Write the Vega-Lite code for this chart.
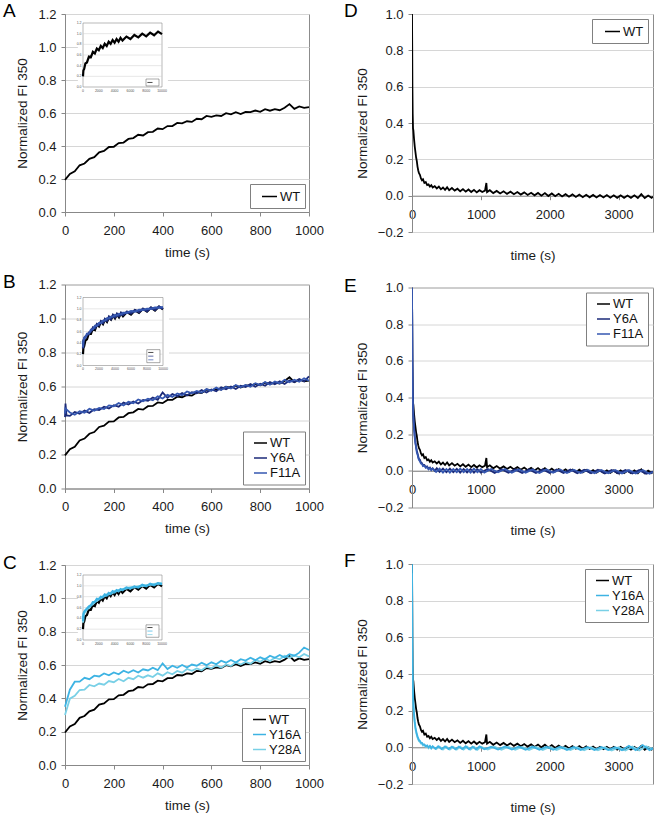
{
"$schema":"https://vega.github.io/schema/vega-lite/v6.json",
"padding":{"left":2,"top":1,"right":0,"bottom":0},
"background":"white",
"config":{
 "view":{"stroke":"#8c8c8c"},
 "axis":{"domainColor":"#888888","tickColor":"#888888","tickSize":4,"tickCount":20,"labelFont":"Liberation Sans","labelFontSize":13,"labelColor":"#1a1a1a","titleFont":"Liberation Sans","titleFontSize":13.5,"titleFontWeight":"normal","titleColor":"#1a1a1a","gridColor":"#d6d6d6","labelFlush":false,"labelOverlap":false},
 "axisX":{"grid":false,"labelPadding":8,"titlePadding":8,"format":"d"},
 "axisY":{"grid":true,"labelPadding":5,"titlePadding":8},
 "legend":{"symbolType":"stroke","symbolSize":169,"symbolStrokeWidth":1.5,"labelFont":"Liberation Sans","labelFontSize":13,"labelColor":"#111111","strokeColor":"#808080","fillColor":"#ffffff","padding":4,"rowPadding":0,"symbolOffset":6,"labelOffset":2}
},
"datasets":{
"wtG":[{"t":0,"v":0.195},{"t":20,"v":0.231},{"t":40,"v":0.246},{"t":60,"v":0.283},{"t":80,"v":0.294},{"t":100,"v":0.322},{"t":120,"v":0.332},{"t":140,"v":0.362},{"t":160,"v":0.37},{"t":180,"v":0.394},{"t":200,"v":0.395},{"t":220,"v":0.418},{"t":240,"v":0.421},{"t":260,"v":0.443},{"t":280,"v":0.448},{"t":300,"v":0.468},{"t":320,"v":0.464},{"t":340,"v":0.484},{"t":360,"v":0.486},{"t":380,"v":0.506},{"t":400,"v":0.502},{"t":420,"v":0.521},{"t":440,"v":0.521},{"t":460,"v":0.54},{"t":480,"v":0.537},{"t":500,"v":0.55},{"t":520,"v":0.546},{"t":540,"v":0.565},{"t":560,"v":0.562},{"t":580,"v":0.582},{"t":600,"v":0.577},{"t":620,"v":0.586},{"t":640,"v":0.582},{"t":660,"v":0.599},{"t":680,"v":0.592},{"t":700,"v":0.605},{"t":720,"v":0.594},{"t":740,"v":0.607},{"t":760,"v":0.605},{"t":780,"v":0.615},{"t":800,"v":0.607},{"t":820,"v":0.623},{"t":840,"v":0.614},{"t":860,"v":0.623},{"t":880,"v":0.617},{"t":900,"v":0.632},{"t":920,"v":0.654},{"t":940,"v":0.625},{"t":960,"v":0.64},{"t":980,"v":0.631},{"t":1000,"v":0.635}],
"y6G":[{"t":0,"v":0.42},{"t":2,"v":0.5},{"t":6,"v":0.43},{"t":20,"v":0.427},{"t":40,"v":0.45},{"t":60,"v":0.44},{"t":80,"v":0.458},{"t":100,"v":0.445},{"t":120,"v":0.466},{"t":140,"v":0.462},{"t":160,"v":0.481},{"t":180,"v":0.471},{"t":200,"v":0.49},{"t":220,"v":0.481},{"t":240,"v":0.505},{"t":260,"v":0.494},{"t":280,"v":0.512},{"t":300,"v":0.5},{"t":320,"v":0.521},{"t":340,"v":0.516},{"t":360,"v":0.535},{"t":380,"v":0.522},{"t":400,"v":0.565},{"t":420,"v":0.533},{"t":440,"v":0.555},{"t":460,"v":0.543},{"t":480,"v":0.561},{"t":500,"v":0.547},{"t":520,"v":0.566},{"t":540,"v":0.56},{"t":560,"v":0.579},{"t":580,"v":0.565},{"t":600,"v":0.583},{"t":620,"v":0.572},{"t":640,"v":0.595},{"t":660,"v":0.584},{"t":680,"v":0.6},{"t":700,"v":0.585},{"t":720,"v":0.605},{"t":740,"v":0.597},{"t":760,"v":0.614},{"t":780,"v":0.599},{"t":800,"v":0.616},{"t":820,"v":0.604},{"t":840,"v":0.626},{"t":860,"v":0.613},{"t":880,"v":0.63},{"t":900,"v":0.615},{"t":920,"v":0.635},{"t":940,"v":0.626},{"t":960,"v":0.644},{"t":980,"v":0.63},{"t":1000,"v":0.66}],
"f11G":[{"t":0,"v":0.44},{"t":2,"v":0.47},{"t":20,"v":0.447},{"t":40,"v":0.434},{"t":60,"v":0.454},{"t":80,"v":0.446},{"t":100,"v":0.469},{"t":120,"v":0.458},{"t":140,"v":0.474},{"t":160,"v":0.467},{"t":180,"v":0.489},{"t":200,"v":0.484},{"t":220,"v":0.503},{"t":240,"v":0.489},{"t":260,"v":0.51},{"t":280,"v":0.502},{"t":300,"v":0.524},{"t":320,"v":0.513},{"t":340,"v":0.528},{"t":360,"v":0.519},{"t":380,"v":0.542},{"t":400,"v":0.529},{"t":420,"v":0.551},{"t":440,"v":0.539},{"t":460,"v":0.559},{"t":480,"v":0.549},{"t":500,"v":0.571},{"t":520,"v":0.56},{"t":540,"v":0.574},{"t":560,"v":0.563},{"t":580,"v":0.585},{"t":600,"v":0.575},{"t":620,"v":0.594},{"t":640,"v":0.579},{"t":660,"v":0.598},{"t":680,"v":0.588},{"t":700,"v":0.609},{"t":720,"v":0.595},{"t":740,"v":0.609},{"t":760,"v":0.598},{"t":780,"v":0.619},{"t":800,"v":0.608},{"t":820,"v":0.626},{"t":840,"v":0.61},{"t":860,"v":0.629},{"t":880,"v":0.618},{"t":900,"v":0.639},{"t":920,"v":0.625},{"t":940,"v":0.64},{"t":960,"v":0.628},{"t":980,"v":0.648},{"t":1000,"v":0.634}],
"y16G":[{"t":0,"v":0.35},{"t":20,"v":0.452},{"t":40,"v":0.5},{"t":60,"v":0.5},{"t":80,"v":0.523},{"t":100,"v":0.515},{"t":120,"v":0.536},{"t":140,"v":0.531},{"t":160,"v":0.549},{"t":180,"v":0.538},{"t":200,"v":0.555},{"t":220,"v":0.544},{"t":240,"v":0.566},{"t":260,"v":0.553},{"t":280,"v":0.569},{"t":300,"v":0.555},{"t":320,"v":0.574},{"t":340,"v":0.567},{"t":360,"v":0.584},{"t":380,"v":0.569},{"t":400,"v":0.61},{"t":420,"v":0.576},{"t":440,"v":0.596},{"t":460,"v":0.583},{"t":480,"v":0.6},{"t":500,"v":0.585},{"t":520,"v":0.603},{"t":540,"v":0.596},{"t":560,"v":0.614},{"t":580,"v":0.599},{"t":600,"v":0.616},{"t":620,"v":0.604},{"t":640,"v":0.626},{"t":660,"v":0.614},{"t":680,"v":0.63},{"t":700,"v":0.615},{"t":720,"v":0.635},{"t":740,"v":0.627},{"t":760,"v":0.644},{"t":780,"v":0.629},{"t":800,"v":0.646},{"t":820,"v":0.634},{"t":840,"v":0.656},{"t":860,"v":0.643},{"t":880,"v":0.66},{"t":900,"v":0.645},{"t":920,"v":0.665},{"t":940,"v":0.656},{"t":960,"v":0.674},{"t":980,"v":0.705},{"t":1000,"v":0.69}],
"y28G":[{"t":0,"v":0.3},{"t":20,"v":0.398},{"t":40,"v":0.415},{"t":60,"v":0.45},{"t":80,"v":0.452},{"t":100,"v":0.48},{"t":120,"v":0.472},{"t":140,"v":0.489},{"t":160,"v":0.482},{"t":180,"v":0.504},{"t":200,"v":0.497},{"t":220,"v":0.516},{"t":240,"v":0.502},{"t":260,"v":0.523},{"t":280,"v":0.515},{"t":300,"v":0.536},{"t":320,"v":0.524},{"t":340,"v":0.538},{"t":360,"v":0.528},{"t":380,"v":0.55},{"t":400,"v":0.536},{"t":420,"v":0.557},{"t":440,"v":0.544},{"t":460,"v":0.564},{"t":480,"v":0.554},{"t":500,"v":0.576},{"t":520,"v":0.565},{"t":540,"v":0.579},{"t":560,"v":0.568},{"t":580,"v":0.59},{"t":600,"v":0.58},{"t":620,"v":0.599},{"t":640,"v":0.584},{"t":660,"v":0.603},{"t":680,"v":0.594},{"t":700,"v":0.616},{"t":720,"v":0.603},{"t":740,"v":0.618},{"t":760,"v":0.608},{"t":780,"v":0.63},{"t":800,"v":0.62},{"t":820,"v":0.639},{"t":840,"v":0.624},{"t":860,"v":0.644},{"t":880,"v":0.634},{"t":900,"v":0.656},{"t":920,"v":0.643},{"t":940,"v":0.658},{"t":960,"v":0.646},{"t":980,"v":0.666},{"t":1000,"v":0.652}],
"wtD":[{"t":0,"v":1.0},{"t":3,"v":0.83},{"t":6,"v":0.6},{"t":10,"v":0.45},{"t":15,"v":0.37},{"t":20,"v":0.36},{"t":30,"v":0.31},{"t":40,"v":0.27},{"t":50,"v":0.24},{"t":60,"v":0.21},{"t":70,"v":0.19},{"t":80,"v":0.16},{"t":90,"v":0.14},{"t":100,"v":0.125},{"t":115,"v":0.115},{"t":130,"v":0.095},{"t":145,"v":0.085},{"t":160,"v":0.09},{"t":180,"v":0.07},{"t":200,"v":0.075},{"t":220,"v":0.058},{"t":240,"v":0.062},{"t":260,"v":0.05},{"t":280,"v":0.058},{"t":300,"v":0.045},{"t":330,"v":0.052},{"t":360,"v":0.04},{"t":390,"v":0.05},{"t":420,"v":0.035},{"t":450,"v":0.045},{"t":480,"v":0.032},{"t":510,"v":0.046},{"t":540,"v":0.03},{"t":580,"v":0.042},{"t":620,"v":0.028},{"t":660,"v":0.038},{"t":700,"v":0.024},{"t":740,"v":0.036},{"t":780,"v":0.022},{"t":820,"v":0.034},{"t":860,"v":0.02},{"t":900,"v":0.032},{"t":940,"v":0.018},{"t":980,"v":0.03},{"t":1020,"v":0.02},{"t":1060,"v":0.028},{"t":1080,"v":0.07},{"t":1090,"v":0.02},{"t":1130,"v":0.03},{"t":1180,"v":0.014},{"t":1230,"v":0.026},{"t":1280,"v":0.012},{"t":1330,"v":0.024},{"t":1380,"v":0.01},{"t":1430,"v":0.022},{"t":1480,"v":0.008},{"t":1530,"v":0.02},{"t":1580,"v":0.006},{"t":1630,"v":0.018},{"t":1680,"v":0.004},{"t":1730,"v":0.016},{"t":1780,"v":0.002},{"t":1830,"v":0.015},{"t":1880,"v":0.0},{"t":1930,"v":0.014},{"t":1980,"v":-0.002},{"t":2030,"v":0.012},{"t":2080,"v":-0.003},{"t":2130,"v":0.01},{"t":2180,"v":-0.004},{"t":2230,"v":0.008},{"t":2280,"v":-0.006},{"t":2330,"v":0.007},{"t":2380,"v":-0.007},{"t":2430,"v":0.006},{"t":2480,"v":-0.008},{"t":2530,"v":0.005},{"t":2580,"v":-0.009},{"t":2630,"v":0.004},{"t":2680,"v":-0.01},{"t":2730,"v":0.003},{"t":2780,"v":-0.01},{"t":2830,"v":0.003},{"t":2880,"v":-0.011},{"t":2930,"v":0.002},{"t":2980,"v":-0.012},{"t":3030,"v":0.002},{"t":3080,"v":-0.012},{"t":3130,"v":0.001},{"t":3180,"v":-0.012},{"t":3230,"v":0.002},{"t":3280,"v":-0.013},{"t":3330,"v":0.008},{"t":3380,"v":-0.013},{"t":3430,"v":0.001},{"t":3480,"v":-0.012},{"t":3500,"v":-0.005}],
"y6D":[{"t":0,"v":1.0},{"t":3,"v":0.82},{"t":6,"v":0.6},{"t":10,"v":0.45},{"t":15,"v":0.35},{"t":20,"v":0.3},{"t":30,"v":0.24},{"t":40,"v":0.19},{"t":50,"v":0.155},{"t":60,"v":0.13},{"t":70,"v":0.11},{"t":80,"v":0.095},{"t":90,"v":0.08},{"t":100,"v":0.065},{"t":115,"v":0.06},{"t":130,"v":0.045},{"t":145,"v":0.042},{"t":160,"v":0.03},{"t":180,"v":0.032},{"t":200,"v":0.02},{"t":220,"v":0.024},{"t":240,"v":0.012},{"t":260,"v":0.018},{"t":280,"v":0.006},{"t":300,"v":0.014},{"t":330,"v":0.0},{"t":360,"v":0.014},{"t":400,"v":-0.006},{"t":450,"v":0.012},{"t":500,"v":-0.008},{"t":550,"v":0.012},{"t":600,"v":-0.008},{"t":650,"v":0.011},{"t":700,"v":-0.01},{"t":750,"v":0.01},{"t":800,"v":-0.009},{"t":850,"v":0.01},{"t":900,"v":-0.01},{"t":950,"v":0.009},{"t":1000,"v":-0.01},{"t":1100,"v":0.01},{"t":1200,"v":-0.011},{"t":1300,"v":0.009},{"t":1400,"v":-0.01},{"t":1500,"v":0.008},{"t":1600,"v":-0.012},{"t":1700,"v":0.008},{"t":1800,"v":-0.012},{"t":1900,"v":0.008},{"t":2000,"v":-0.012},{"t":2100,"v":0.007},{"t":2200,"v":-0.012},{"t":2300,"v":0.007},{"t":2400,"v":-0.013},{"t":2500,"v":0.006},{"t":2600,"v":-0.013},{"t":2700,"v":0.006},{"t":2800,"v":-0.014},{"t":2900,"v":0.005},{"t":3000,"v":-0.014},{"t":3100,"v":0.005},{"t":3200,"v":-0.014},{"t":3300,"v":0.004},{"t":3400,"v":-0.016},{"t":3500,"v":-0.004}],
"f11D":[{"t":0,"v":1.0},{"t":3,"v":0.8},{"t":6,"v":0.58},{"t":10,"v":0.42},{"t":15,"v":0.34},{"t":20,"v":0.29},{"t":30,"v":0.23},{"t":40,"v":0.18},{"t":50,"v":0.15},{"t":60,"v":0.125},{"t":70,"v":0.1},{"t":80,"v":0.09},{"t":90,"v":0.072},{"t":100,"v":0.06},{"t":115,"v":0.052},{"t":130,"v":0.04},{"t":145,"v":0.038},{"t":160,"v":0.026},{"t":180,"v":0.028},{"t":200,"v":0.016},{"t":220,"v":0.02},{"t":240,"v":0.008},{"t":260,"v":0.015},{"t":280,"v":0.004},{"t":300,"v":0.012},{"t":350,"v":-0.006},{"t":400,"v":0.012},{"t":450,"v":-0.01},{"t":500,"v":0.01},{"t":550,"v":-0.01},{"t":600,"v":0.01},{"t":650,"v":-0.008},{"t":700,"v":0.012},{"t":750,"v":-0.008},{"t":800,"v":0.01},{"t":850,"v":-0.01},{"t":900,"v":0.012},{"t":950,"v":-0.008},{"t":1000,"v":0.01},{"t":1050,"v":-0.01},{"t":1150,"v":0.01},{"t":1250,"v":-0.008},{"t":1350,"v":0.01},{"t":1450,"v":-0.01},{"t":1550,"v":0.009},{"t":1650,"v":-0.01},{"t":1750,"v":0.008},{"t":1850,"v":-0.012},{"t":1950,"v":0.008},{"t":2050,"v":-0.01},{"t":2150,"v":0.007},{"t":2250,"v":-0.012},{"t":2350,"v":0.006},{"t":2450,"v":-0.012},{"t":2550,"v":0.006},{"t":2650,"v":-0.013},{"t":2750,"v":0.005},{"t":2850,"v":-0.013},{"t":2950,"v":0.005},{"t":3050,"v":-0.014},{"t":3150,"v":0.004},{"t":3250,"v":-0.015},{"t":3350,"v":0.004},{"t":3450,"v":-0.016},{"t":3500,"v":-0.006}],
"y16D":[{"t":0,"v":1.0},{"t":3,"v":0.73},{"t":6,"v":0.5},{"t":10,"v":0.36},{"t":15,"v":0.29},{"t":20,"v":0.24},{"t":30,"v":0.18},{"t":40,"v":0.14},{"t":50,"v":0.11},{"t":60,"v":0.09},{"t":70,"v":0.072},{"t":80,"v":0.06},{"t":90,"v":0.05},{"t":100,"v":0.04},{"t":115,"v":0.035},{"t":130,"v":0.025},{"t":145,"v":0.024},{"t":160,"v":0.015},{"t":180,"v":0.016},{"t":200,"v":0.006},{"t":220,"v":0.01},{"t":240,"v":0.0},{"t":260,"v":0.008},{"t":280,"v":-0.004},{"t":300,"v":0.006},{"t":340,"v":-0.008},{"t":380,"v":0.006},{"t":430,"v":-0.01},{"t":480,"v":0.005},{"t":530,"v":-0.01},{"t":580,"v":0.004},{"t":630,"v":-0.011},{"t":680,"v":0.004},{"t":730,"v":-0.01},{"t":780,"v":0.006},{"t":830,"v":-0.011},{"t":880,"v":0.004},{"t":930,"v":-0.012},{"t":980,"v":0.005},{"t":1050,"v":-0.011},{"t":1150,"v":0.004},{"t":1250,"v":-0.012},{"t":1350,"v":0.005},{"t":1450,"v":-0.012},{"t":1550,"v":0.004},{"t":1650,"v":-0.013},{"t":1750,"v":0.004},{"t":1850,"v":-0.013},{"t":1950,"v":0.003},{"t":2050,"v":-0.013},{"t":2150,"v":0.003},{"t":2250,"v":-0.014},{"t":2350,"v":0.002},{"t":2450,"v":-0.014},{"t":2550,"v":0.002},{"t":2650,"v":-0.015},{"t":2750,"v":0.002},{"t":2850,"v":-0.015},{"t":2950,"v":0.001},{"t":3050,"v":-0.016},{"t":3150,"v":0.008},{"t":3250,"v":-0.016},{"t":3350,"v":0.012},{"t":3450,"v":-0.016},{"t":3500,"v":-0.004}],
"y28D":[{"t":0,"v":0.95},{"t":3,"v":0.7},{"t":6,"v":0.48},{"t":10,"v":0.34},{"t":15,"v":0.27},{"t":20,"v":0.22},{"t":30,"v":0.165},{"t":40,"v":0.13},{"t":50,"v":0.1},{"t":60,"v":0.082},{"t":70,"v":0.066},{"t":80,"v":0.052},{"t":90,"v":0.044},{"t":100,"v":0.034},{"t":115,"v":0.03},{"t":130,"v":0.02},{"t":145,"v":0.02},{"t":160,"v":0.01},{"t":180,"v":0.013},{"t":200,"v":0.002},{"t":220,"v":0.008},{"t":240,"v":-0.004},{"t":260,"v":0.006},{"t":280,"v":-0.006},{"t":300,"v":0.004},{"t":350,"v":-0.01},{"t":400,"v":0.004},{"t":450,"v":-0.012},{"t":500,"v":0.004},{"t":550,"v":-0.012},{"t":600,"v":0.003},{"t":650,"v":-0.012},{"t":700,"v":0.004},{"t":750,"v":-0.012},{"t":800,"v":0.004},{"t":850,"v":-0.012},{"t":900,"v":0.003},{"t":950,"v":-0.013},{"t":1000,"v":0.003},{"t":1100,"v":-0.012},{"t":1200,"v":0.003},{"t":1300,"v":-0.013},{"t":1400,"v":0.003},{"t":1500,"v":-0.013},{"t":1600,"v":0.002},{"t":1700,"v":-0.014},{"t":1800,"v":0.002},{"t":1900,"v":-0.014},{"t":2000,"v":0.002},{"t":2100,"v":-0.015},{"t":2200,"v":0.001},{"t":2300,"v":-0.015},{"t":2400,"v":0.001},{"t":2500,"v":-0.016},{"t":2600,"v":0.001},{"t":2700,"v":-0.016},{"t":2800,"v":0.0},{"t":2900,"v":-0.017},{"t":3000,"v":0.0},{"t":3100,"v":-0.017},{"t":3200,"v":0.004},{"t":3300,"v":-0.017},{"t":3400,"v":0.006},{"t":3500,"v":-0.01}],
"wtI":[{"t":0,"v":0.2},{"t":50,"v":0.31},{"t":150,"v":0.34},{"t":300,"v":0.44},{"t":500,"v":0.46},{"t":750,"v":0.57},{"t":1000,"v":0.56},{"t":1250,"v":0.66},{"t":1500,"v":0.63},{"t":1750,"v":0.72},{"t":2000,"v":0.69},{"t":2250,"v":0.77},{"t":2500,"v":0.73},{"t":2750,"v":0.81},{"t":3000,"v":0.77},{"t":3250,"v":0.85},{"t":3500,"v":0.81},{"t":3750,"v":0.88},{"t":4000,"v":0.83},{"t":4250,"v":0.9},{"t":4500,"v":0.85},{"t":4750,"v":0.92},{"t":5000,"v":0.87},{"t":5500,"v":0.945},{"t":6000,"v":0.9},{"t":6500,"v":0.975},{"t":7000,"v":0.93},{"t":7500,"v":1.0},{"t":8000,"v":0.95},{"t":8500,"v":1.02},{"t":9000,"v":0.97},{"t":9500,"v":1.04},{"t":10000,"v":0.99}],
"y6I":[{"t":0,"v":0.3},{"t":50,"v":0.44},{"t":150,"v":0.47},{"t":300,"v":0.51},{"t":500,"v":0.53},{"t":750,"v":0.58},{"t":1000,"v":0.6},{"t":1250,"v":0.67},{"t":1500,"v":0.66},{"t":1750,"v":0.73},{"t":2000,"v":0.71},{"t":2250,"v":0.78},{"t":2500,"v":0.75},{"t":2750,"v":0.82},{"t":3000,"v":0.79},{"t":3250,"v":0.86},{"t":3500,"v":0.82},{"t":3750,"v":0.89},{"t":4000,"v":0.85},{"t":4250,"v":0.91},{"t":4500,"v":0.87},{"t":4750,"v":0.93},{"t":5000,"v":0.89},{"t":5500,"v":0.95},{"t":6000,"v":0.92},{"t":6500,"v":0.98},{"t":7000,"v":0.94},{"t":7500,"v":1.0},{"t":8000,"v":0.96},{"t":8500,"v":1.02},{"t":9000,"v":0.98},{"t":9500,"v":1.04},{"t":10000,"v":1.0}],
"f11I":[{"t":0,"v":0.32},{"t":50,"v":0.42},{"t":150,"v":0.49},{"t":300,"v":0.49},{"t":500,"v":0.56},{"t":750,"v":0.56},{"t":1000,"v":0.63},{"t":1250,"v":0.64},{"t":1500,"v":0.7},{"t":1750,"v":0.7},{"t":2000,"v":0.75},{"t":2250,"v":0.75},{"t":2500,"v":0.79},{"t":2750,"v":0.79},{"t":3000,"v":0.83},{"t":3250,"v":0.83},{"t":3500,"v":0.86},{"t":3750,"v":0.86},{"t":4000,"v":0.89},{"t":4250,"v":0.88},{"t":4500,"v":0.91},{"t":4750,"v":0.9},{"t":5000,"v":0.93},{"t":5500,"v":0.93},{"t":6000,"v":0.96},{"t":6500,"v":0.95},{"t":7000,"v":0.98},{"t":7500,"v":0.98},{"t":8000,"v":1.0},{"t":8500,"v":1.0},{"t":9000,"v":1.02},{"t":9500,"v":1.02},{"t":10000,"v":1.03}],
"y16I":[{"t":0,"v":0.35},{"t":50,"v":0.48},{"t":150,"v":0.52},{"t":300,"v":0.55},{"t":500,"v":0.58},{"t":750,"v":0.62},{"t":1000,"v":0.64},{"t":1250,"v":0.7},{"t":1500,"v":0.7},{"t":1750,"v":0.76},{"t":2000,"v":0.75},{"t":2250,"v":0.8},{"t":2500,"v":0.79},{"t":2750,"v":0.84},{"t":3000,"v":0.82},{"t":3250,"v":0.87},{"t":3500,"v":0.85},{"t":3750,"v":0.9},{"t":4000,"v":0.88},{"t":4250,"v":0.92},{"t":4500,"v":0.9},{"t":4750,"v":0.94},{"t":5000,"v":0.92},{"t":5500,"v":0.97},{"t":6000,"v":0.95},{"t":6500,"v":0.99},{"t":7000,"v":0.97},{"t":7500,"v":1.02},{"t":8000,"v":0.99},{"t":8500,"v":1.04},{"t":9000,"v":1.01},{"t":9500,"v":1.05},{"t":10000,"v":1.03}],
"y28I":[{"t":0,"v":0.32},{"t":50,"v":0.44},{"t":150,"v":0.5},{"t":300,"v":0.52},{"t":500,"v":0.57},{"t":750,"v":0.59},{"t":1000,"v":0.64},{"t":1250,"v":0.66},{"t":1500,"v":0.71},{"t":1750,"v":0.72},{"t":2000,"v":0.76},{"t":2250,"v":0.77},{"t":2500,"v":0.8},{"t":2750,"v":0.81},{"t":3000,"v":0.84},{"t":3250,"v":0.84},{"t":3500,"v":0.87},{"t":3750,"v":0.87},{"t":4000,"v":0.9},{"t":4250,"v":0.9},{"t":4500,"v":0.92},{"t":4750,"v":0.92},{"t":5000,"v":0.94},{"t":5500,"v":0.95},{"t":6000,"v":0.97},{"t":6500,"v":0.97},{"t":7000,"v":0.99},{"t":7500,"v":1.0},{"t":8000,"v":1.01},{"t":8500,"v":1.02},{"t":9000,"v":1.03},{"t":9500,"v":1.04},{"t":10000,"v":1.05}],
"ig":[{"v":0.2},{"v":0.4},{"v":0.6},{"v":0.8},{"v":1.0}],
"yt":[{"v":0},{"v":0.2},{"v":0.4},{"v":0.6},{"v":0.8},{"v":1.0},{"v":1.2}],
"xt":[{"t":0},{"t":2000},{"t":4000},{"t":6000},{"t":8000},{"t":10000}]
},
"resolve":{"scale":{"x":"independent","y":"independent","color":"independent"},"legend":{"color":"independent"}},
"spacing":19,
"hconcat":[
{"spacing":12.5,
 "resolve":{"scale":{"x":"independent","y":"independent","color":"independent"},"legend":{"color":"independent"}},
 "vconcat":[
 {"width":244,"height":198,
  "resolve":{"scale":{"x":"independent","y":"independent","color":"independent"},"legend":{"color":"independent"}},
  "layer":[
   {"layer":[
     {"data":{"name":"wtG"},"mark":{"type":"line","strokeWidth":1.8},
      "encoding":{"x":{"field":"t","type":"quantitative","scale":{"domain":[0,1000],"nice":false},"axis":{"title":"time (s)","values":[0,200,400,600,800,1000]}},
       "y":{"field":"v","type":"quantitative","scale":{"domain":[0,1.2],"nice":false},"axis":{"title":"Normalized FI 350","values":[0,0.2,0.4,0.6,0.8,1,1.2],"format":".1f"}},
       "color":{"datum":"WT","scale":{"domain":["WT"],"range":["#000000"]},"legend":{"title":null,"orient":"bottom-right","offset":4,"symbolSize":225,"symbolOffset":7}}}},
     {"data":{"values":[{}]},"mark":{"type":"text","text":"A","font":"Liberation Sans","fontSize":19,"align":"left","baseline":"alphabetic","dx":-62,"dy":3,"color":"#000000"},
      "encoding":{"x":{"datum":0,"type":"quantitative"},"y":{"datum":1.2,"type":"quantitative"}}}
   ]},
   {"layer":[
     {"data":{"values":[{}]},"mark":{"type":"rect","fill":"#ffffff"},
      "encoding":{"x":{"datum":-650,"type":"quantitative","scale":{"domain":[0,10000],"range":[18,97],"nice":false,"zero":false},"axis":null},"x2":{"datum":10750},
       "y":{"datum":-0.23,"type":"quantitative","scale":{"domain":[0,1.2],"range":[73,9],"nice":false,"zero":false},"axis":null},"y2":{"datum":1.28}}},
     {"data":{"values":[{}]},"mark":{"type":"rect","fill":"#ffffff","stroke":"#8a8a8a","strokeWidth":0.6},
      "encoding":{"x":{"datum":0,"type":"quantitative","axis":null},"x2":{"datum":10000},"y":{"datum":0,"type":"quantitative","axis":null},"y2":{"datum":1.2}}},
     {"data":{"name":"ig"},"mark":{"type":"rule","stroke":"#cfcfcf","strokeWidth":0.5},
      "encoding":{"x":{"datum":0,"type":"quantitative","axis":null},"x2":{"datum":10000},"y":{"field":"v","type":"quantitative","axis":null}}},
     {"data":{"name":"wtI"},"mark":{"type":"line","strokeWidth":2.2},
      "encoding":{"x":{"field":"t","type":"quantitative","axis":null},"y":{"field":"v","type":"quantitative","axis":null},
       "color":{"datum":"WT","scale":{"domain":["WT"],"range":["#000000"]},"legend":null}}},
     {"data":{"name":"yt"},"mark":{"type":"text","fontSize":3.5,"align":"right","dx":-1.5,"color":"#555555","font":"Liberation Sans"},
      "encoding":{"x":{"datum":0,"type":"quantitative","axis":null},"y":{"field":"v","type":"quantitative","axis":null},"text":{"field":"v","type":"quantitative","format":".1f"}}},
     {"data":{"name":"xt"},"mark":{"type":"text","fontSize":3.5,"baseline":"top","dy":1.5,"color":"#555555","font":"Liberation Sans"},
      "encoding":{"x":{"field":"t","type":"quantitative","axis":null},"y":{"datum":0,"type":"quantitative","axis":null},"text":{"field":"t","type":"quantitative","format":"d"}}},
     {"data":{"values":[{}]},"mark":{"type":"rect","fill":"#ffffff","stroke":"#555555","strokeWidth":0.5},
      "encoding":{"x":{"datum":7975,"type":"quantitative","axis":null},"x2":{"datum":9620},"y":{"datum":0.02,"type":"quantitative","axis":null},"y2":{"datum":0.15}}},
     {"data":{"values":[{}]},"mark":{"type":"rule","stroke":"#000000","strokeWidth":0.7},
      "encoding":{"x":{"datum":8150,"type":"quantitative","axis":null},"x2":{"datum":8800},"y":{"datum":0.085,"type":"quantitative","axis":null}}}
   ]}
  ]},
 {"spacing":17.5,
  "resolve":{"scale":{"x":"independent","y":"independent","color":"independent"},"legend":{"color":"independent"}},
  "vconcat":[
  {"width":244,"height":204,
   "resolve":{"scale":{"x":"independent","y":"independent","color":"independent"},"legend":{"color":"independent"}},
   "layer":[
    {"layer":[
      {"data":{"name":"wtG"},"mark":{"type":"line","strokeWidth":1.8},
       "encoding":{"x":{"field":"t","type":"quantitative","scale":{"domain":[0,1000],"nice":false},"axis":{"title":"time (s)","values":[0,200,400,600,800,1000]}},
        "y":{"field":"v","type":"quantitative","scale":{"domain":[0,1.2],"nice":false},"axis":{"title":"Normalized FI 350","values":[0,0.2,0.4,0.6,0.8,1,1.2],"format":".1f"}},
        "color":{"datum":"WT","scale":{"domain":["WT","Y6A","F11A"],"range":["#000000","#1b2a78","#3557b0"]},"legend":{"title":null,"orient":"bottom-right","offset":4}}}},
      {"data":{"name":"y6G"},"mark":{"type":"line","strokeWidth":1.8},
       "encoding":{"x":{"field":"t","type":"quantitative"},"y":{"field":"v","type":"quantitative"},"color":{"datum":"Y6A","scale":{"domain":["WT","Y6A","F11A"],"range":["#000000","#1b2a78","#3557b0"]}}}},
      {"data":{"name":"f11G"},"mark":{"type":"line","strokeWidth":1.8},
       "encoding":{"x":{"field":"t","type":"quantitative"},"y":{"field":"v","type":"quantitative"},"color":{"datum":"F11A","scale":{"domain":["WT","Y6A","F11A"],"range":["#000000","#1b2a78","#3557b0"]}}}},
      {"data":{"values":[{}]},"mark":{"type":"text","text":"B","font":"Liberation Sans","fontSize":19,"align":"left","baseline":"alphabetic","dx":-62,"dy":3,"color":"#000000"},
       "encoding":{"x":{"datum":0,"type":"quantitative"},"y":{"datum":1.2,"type":"quantitative"}}}
    ]},
    {"layer":[
      {"data":{"values":[{}]},"mark":{"type":"rect","fill":"#ffffff"},
       "encoding":{"x":{"datum":-650,"type":"quantitative","scale":{"domain":[0,10000],"range":[18,98],"nice":false,"zero":false},"axis":null},"x2":{"datum":10750},
        "y":{"datum":-0.23,"type":"quantitative","scale":{"domain":[0,1.2],"range":[81,13],"nice":false,"zero":false},"axis":null},"y2":{"datum":1.28}}},
      {"data":{"values":[{}]},"mark":{"type":"rect","fill":"#ffffff","stroke":"#8a8a8a","strokeWidth":0.6},
       "encoding":{"x":{"datum":0,"type":"quantitative","axis":null},"x2":{"datum":10000},"y":{"datum":0,"type":"quantitative","axis":null},"y2":{"datum":1.2}}},
      {"data":{"name":"ig"},"mark":{"type":"rule","stroke":"#cfcfcf","strokeWidth":0.5},
       "encoding":{"x":{"datum":0,"type":"quantitative","axis":null},"x2":{"datum":10000},"y":{"field":"v","type":"quantitative","axis":null}}},
      {"data":{"name":"wtI"},"mark":{"type":"line","strokeWidth":2.2},
       "encoding":{"x":{"field":"t","type":"quantitative","axis":null},"y":{"field":"v","type":"quantitative","axis":null},
        "color":{"datum":"WT","scale":{"domain":["WT","Y6A","F11A"],"range":["#000000","#1b2a78","#3557b0"]},"legend":null}}},
      {"data":{"name":"y6I"},"mark":{"type":"line","strokeWidth":2.2},
       "encoding":{"x":{"field":"t","type":"quantitative","axis":null},"y":{"field":"v","type":"quantitative","axis":null},
        "color":{"datum":"Y6A","legend":null}}},
      {"data":{"name":"f11I"},"mark":{"type":"line","strokeWidth":2.2},
       "encoding":{"x":{"field":"t","type":"quantitative","axis":null},"y":{"field":"v","type":"quantitative","axis":null},
        "color":{"datum":"F11A","legend":null}}},
      {"data":{"name":"yt"},"mark":{"type":"text","fontSize":3.5,"align":"right","dx":-1.5,"color":"#555555","font":"Liberation Sans"},
       "encoding":{"x":{"datum":0,"type":"quantitative","axis":null},"y":{"field":"v","type":"quantitative","axis":null},"text":{"field":"v","type":"quantitative","format":".1f"}}},
      {"data":{"name":"xt"},"mark":{"type":"text","fontSize":3.5,"baseline":"top","dy":1.5,"color":"#555555","font":"Liberation Sans"},
       "encoding":{"x":{"field":"t","type":"quantitative","axis":null},"y":{"datum":0,"type":"quantitative","axis":null},"text":{"field":"t","type":"quantitative","format":"d"}}},
      {"data":{"values":[{}]},"mark":{"type":"rect","fill":"#ffffff","stroke":"#555555","strokeWidth":0.5},
       "encoding":{"x":{"datum":7975,"type":"quantitative","axis":null},"x2":{"datum":9620},"y":{"datum":0.05,"type":"quantitative","axis":null},"y2":{"datum":0.28}}},
      {"data":{"values":[{}]},"mark":{"type":"rule","stroke":"#000000","strokeWidth":0.7},
       "encoding":{"x":{"datum":8150,"type":"quantitative","axis":null},"x2":{"datum":8800},"y":{"datum":0.23,"type":"quantitative","axis":null}}},
      {"data":{"values":[{}]},"mark":{"type":"rule","stroke":"#1b2a78","strokeWidth":0.7},
       "encoding":{"x":{"datum":8150,"type":"quantitative","axis":null},"x2":{"datum":8800},"y":{"datum":0.165,"type":"quantitative","axis":null}}},
      {"data":{"values":[{}]},"mark":{"type":"rule","stroke":"#3557b0","strokeWidth":0.7},
       "encoding":{"x":{"datum":8150,"type":"quantitative","axis":null},"x2":{"datum":8800},"y":{"datum":0.1,"type":"quantitative","axis":null}}}
    ]}
   ]},
  {"width":244,"height":200,
   "resolve":{"scale":{"x":"independent","y":"independent","color":"independent"},"legend":{"color":"independent"}},
   "layer":[
    {"layer":[
      {"data":{"name":"wtG"},"mark":{"type":"line","strokeWidth":1.8},
       "encoding":{"x":{"field":"t","type":"quantitative","scale":{"domain":[0,1000],"nice":false},"axis":{"title":"time (s)","values":[0,200,400,600,800,1000]}},
        "y":{"field":"v","type":"quantitative","scale":{"domain":[0,1.2],"nice":false},"axis":{"title":"Normalized FI 350","values":[0,0.2,0.4,0.6,0.8,1,1.2],"format":".1f"}},
        "color":{"datum":"WT","scale":{"domain":["WT","Y16A","Y28A"],"range":["#000000","#3db3e3","#79d0e6"]},"legend":{"title":null,"orient":"bottom-right","offset":4}}}},
      {"data":{"name":"y28G"},"mark":{"type":"line","strokeWidth":1.8},
       "encoding":{"x":{"field":"t","type":"quantitative"},"y":{"field":"v","type":"quantitative"},"color":{"datum":"Y28A","scale":{"domain":["WT","Y16A","Y28A"],"range":["#000000","#3db3e3","#79d0e6"]}}}},
      {"data":{"name":"y16G"},"mark":{"type":"line","strokeWidth":1.8},
       "encoding":{"x":{"field":"t","type":"quantitative"},"y":{"field":"v","type":"quantitative"},"color":{"datum":"Y16A","scale":{"domain":["WT","Y16A","Y28A"],"range":["#000000","#3db3e3","#79d0e6"]}}}},
      {"data":{"values":[{}]},"mark":{"type":"text","text":"C","font":"Liberation Sans","fontSize":19,"align":"left","baseline":"alphabetic","dx":-62,"dy":4,"color":"#000000"},
       "encoding":{"x":{"datum":0,"type":"quantitative"},"y":{"datum":1.2,"type":"quantitative"}}}
    ]},
    {"layer":[
      {"data":{"values":[{}]},"mark":{"type":"rect","fill":"#ffffff"},
       "encoding":{"x":{"datum":-650,"type":"quantitative","scale":{"domain":[0,10000],"range":[18,97],"nice":false,"zero":false},"axis":null},"x2":{"datum":10750},
        "y":{"datum":-0.23,"type":"quantitative","scale":{"domain":[0,1.2],"range":[75,10],"nice":false,"zero":false},"axis":null},"y2":{"datum":1.28}}},
      {"data":{"values":[{}]},"mark":{"type":"rect","fill":"#ffffff","stroke":"#8a8a8a","strokeWidth":0.6},
       "encoding":{"x":{"datum":0,"type":"quantitative","axis":null},"x2":{"datum":10000},"y":{"datum":0,"type":"quantitative","axis":null},"y2":{"datum":1.2}}},
      {"data":{"name":"ig"},"mark":{"type":"rule","stroke":"#cfcfcf","strokeWidth":0.5},
       "encoding":{"x":{"datum":0,"type":"quantitative","axis":null},"x2":{"datum":10000},"y":{"field":"v","type":"quantitative","axis":null}}},
      {"data":{"name":"wtI"},"mark":{"type":"line","strokeWidth":2.2},
       "encoding":{"x":{"field":"t","type":"quantitative","axis":null},"y":{"field":"v","type":"quantitative","axis":null},
        "color":{"datum":"WT","scale":{"domain":["WT","Y16A","Y28A"],"range":["#000000","#3db3e3","#79d0e6"]},"legend":null}}},
      {"data":{"name":"y28I"},"mark":{"type":"line","strokeWidth":2.2},
       "encoding":{"x":{"field":"t","type":"quantitative","axis":null},"y":{"field":"v","type":"quantitative","axis":null},
        "color":{"datum":"Y28A","legend":null}}},
      {"data":{"name":"y16I"},"mark":{"type":"line","strokeWidth":2.2},
       "encoding":{"x":{"field":"t","type":"quantitative","axis":null},"y":{"field":"v","type":"quantitative","axis":null},
        "color":{"datum":"Y16A","legend":null}}},
      {"data":{"name":"yt"},"mark":{"type":"text","fontSize":3.5,"align":"right","dx":-1.5,"color":"#555555","font":"Liberation Sans"},
       "encoding":{"x":{"datum":0,"type":"quantitative","axis":null},"y":{"field":"v","type":"quantitative","axis":null},"text":{"field":"v","type":"quantitative","format":".1f"}}},
      {"data":{"name":"xt"},"mark":{"type":"text","fontSize":3.5,"baseline":"top","dy":1.5,"color":"#555555","font":"Liberation Sans"},
       "encoding":{"x":{"field":"t","type":"quantitative","axis":null},"y":{"datum":0,"type":"quantitative","axis":null},"text":{"field":"t","type":"quantitative","format":"d"}}},
      {"data":{"values":[{}]},"mark":{"type":"rect","fill":"#ffffff","stroke":"#555555","strokeWidth":0.5},
       "encoding":{"x":{"datum":7975,"type":"quantitative","axis":null},"x2":{"datum":9620},"y":{"datum":0.05,"type":"quantitative","axis":null},"y2":{"datum":0.28}}},
      {"data":{"values":[{}]},"mark":{"type":"rule","stroke":"#000000","strokeWidth":0.7},
       "encoding":{"x":{"datum":8150,"type":"quantitative","axis":null},"x2":{"datum":8800},"y":{"datum":0.23,"type":"quantitative","axis":null}}},
      {"data":{"values":[{}]},"mark":{"type":"rule","stroke":"#3db3e3","strokeWidth":0.7},
       "encoding":{"x":{"datum":8150,"type":"quantitative","axis":null},"x2":{"datum":8800},"y":{"datum":0.165,"type":"quantitative","axis":null}}},
      {"data":{"values":[{}]},"mark":{"type":"rule","stroke":"#79d0e6","strokeWidth":0.7},
       "encoding":{"x":{"datum":8150,"type":"quantitative","axis":null},"x2":{"datum":8800},"y":{"datum":0.1,"type":"quantitative","axis":null}}}
    ]}
   ]}
  ]}
 ]},
{"spacing":12.5,
 "resolve":{"scale":{"x":"independent","y":"independent","color":"independent"},"legend":{"color":"independent"}},
 "vconcat":[
 {"width":241,"height":218,
  "layer":[
   {"data":{"name":"wtD"},"mark":{"type":"line","strokeWidth":1.8,"clip":true},
    "encoding":{"x":{"field":"t","type":"quantitative","scale":{"domain":[0,3500],"nice":false},"axis":{"title":"time (s)","values":[0,1000,2000,3000],"offset":-36.3,"labelPadding":9,"titlePadding":27}},
     "y":{"field":"v","type":"quantitative","scale":{"domain":[-0.2,1.0],"nice":false},"axis":{"title":"Normalized FI 350","values":[-0.2,0,0.2,0.4,0.6,0.8,1.0],"format":".1f"}},
     "color":{"datum":"WT","scale":{"domain":["WT"],"range":["#000000"]},"legend":{"title":null,"orient":"top-right","offset":5,"symbolSize":225,"symbolOffset":8}}}},
   {"data":{"values":[{}]},"mark":{"type":"text","text":"D","font":"Liberation Sans","fontSize":19,"align":"left","baseline":"alphabetic","dx":-68,"dy":3,"color":"#000000"},
    "encoding":{"x":{"datum":0,"type":"quantitative"},"y":{"datum":1.0,"type":"quantitative"}}}
  ]},
 {"spacing":12.5,
  "resolve":{"scale":{"x":"independent","y":"independent","color":"independent"},"legend":{"color":"independent"}},
  "vconcat":[
  {"width":241,"height":220,
   "layer":[
    {"data":{"name":"wtD"},"mark":{"type":"line","strokeWidth":1.8,"clip":true},
     "encoding":{"x":{"field":"t","type":"quantitative","scale":{"domain":[0,3500],"nice":false},"axis":{"title":"time (s)","values":[0,1000,2000,3000],"offset":-36.7,"labelPadding":9,"titlePadding":27}},
      "y":{"field":"v","type":"quantitative","scale":{"domain":[-0.2,1.0],"nice":false},"axis":{"title":"Normalized FI 350","values":[-0.2,0,0.2,0.4,0.6,0.8,1.0],"format":".1f"}},
      "color":{"datum":"WT","scale":{"domain":["WT","Y6A","F11A"],"range":["#000000","#1b2a78","#3557b0"]},"legend":{"title":null,"orient":"top-right","offset":5}}}},
    {"data":{"name":"y6D"},"mark":{"type":"line","strokeWidth":1.8,"clip":true},
     "encoding":{"x":{"field":"t","type":"quantitative"},"y":{"field":"v","type":"quantitative"},"color":{"datum":"Y6A","scale":{"domain":["WT","Y6A","F11A"],"range":["#000000","#1b2a78","#3557b0"]}}}},
    {"data":{"name":"f11D"},"mark":{"type":"line","strokeWidth":1.8,"clip":true},
     "encoding":{"x":{"field":"t","type":"quantitative"},"y":{"field":"v","type":"quantitative"},"color":{"datum":"F11A","scale":{"domain":["WT","Y6A","F11A"],"range":["#000000","#1b2a78","#3557b0"]}}}},
    {"data":{"values":[{}]},"mark":{"type":"text","text":"E","font":"Liberation Sans","fontSize":19,"align":"left","baseline":"alphabetic","dx":-68,"dy":4,"color":"#000000"},
     "encoding":{"x":{"datum":0,"type":"quantitative"},"y":{"datum":1.0,"type":"quantitative"}}}
   ]},
  {"width":241,"height":220,
   "layer":[
    {"data":{"name":"wtD"},"mark":{"type":"line","strokeWidth":1.8,"clip":true},
     "encoding":{"x":{"field":"t","type":"quantitative","scale":{"domain":[0,3500],"nice":false},"axis":{"title":"time (s)","values":[0,1000,2000,3000],"offset":-36.7,"labelPadding":9,"titlePadding":27}},
      "y":{"field":"v","type":"quantitative","scale":{"domain":[-0.2,1.0],"nice":false},"axis":{"title":"Normalized FI 350","values":[-0.2,0,0.2,0.4,0.6,0.8,1.0],"format":".1f"}},
      "color":{"datum":"WT","scale":{"domain":["WT","Y16A","Y28A"],"range":["#000000","#3db3e3","#79d0e6"]},"legend":{"title":null,"orient":"top-right","offset":5}}}},
    {"data":{"name":"y28D"},"mark":{"type":"line","strokeWidth":1.8,"clip":true},
     "encoding":{"x":{"field":"t","type":"quantitative"},"y":{"field":"v","type":"quantitative"},"color":{"datum":"Y28A","scale":{"domain":["WT","Y16A","Y28A"],"range":["#000000","#3db3e3","#79d0e6"]}}}},
    {"data":{"name":"y16D"},"mark":{"type":"line","strokeWidth":1.8,"clip":true},
     "encoding":{"x":{"field":"t","type":"quantitative"},"y":{"field":"v","type":"quantitative"},"color":{"datum":"Y16A","scale":{"domain":["WT","Y16A","Y28A"],"range":["#000000","#3db3e3","#79d0e6"]}}}},
    {"data":{"values":[{}]},"mark":{"type":"text","text":"F","font":"Liberation Sans","fontSize":19,"align":"left","baseline":"alphabetic","dx":-68,"dy":3,"color":"#000000"},
     "encoding":{"x":{"datum":0,"type":"quantitative"},"y":{"datum":1.0,"type":"quantitative"}}}
   ]}
  ]}
 ]}
]
}
